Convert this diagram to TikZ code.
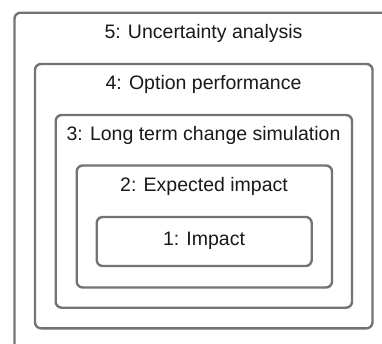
\documentclass[tikz,border=0pt]{standalone}
\usepackage{fontspec}
\setmainfont{Liberation Sans}
\begin{document}
\begin{tikzpicture}[x=1pt,y=-1pt,
  layer/.style={draw=black!55, line width=2.4pt, rounded corners=6pt},
  lbl/.style={font=\fontsize{19.5}{22}\selectfont, text=black!90, inner sep=0pt, anchor=center}]
\useasboundingbox (0,0) rectangle (382,343);
\clip (0,0) rectangle (382,343);
\fill[white] (0,0) rectangle (382,343);
\draw[layer] (14.5,12.7) rectangle (394,360);
\draw[layer] (35,64) rectangle (372.5,328.3);
\draw[layer] (55.7,115) rectangle (352,307.7);
\draw[layer] (76.7,165.5) rectangle (332,287.5);
\draw[layer] (96.7,217) rectangle (311.7,266);
\node[lbl] (t5) at (203.5,33) {5: Uncertainty analysis};
\node[lbl] (t4) at (203.5,84) {4: Option performance};
\node[lbl] (t3) at (203.5,135) {3: Long term change simulation};
\node[lbl] (t2) at (204,186) {2: Expected impact};
\node[lbl] (t1) at (204,241) {1: Impact};
\end{tikzpicture}
\end{document}
